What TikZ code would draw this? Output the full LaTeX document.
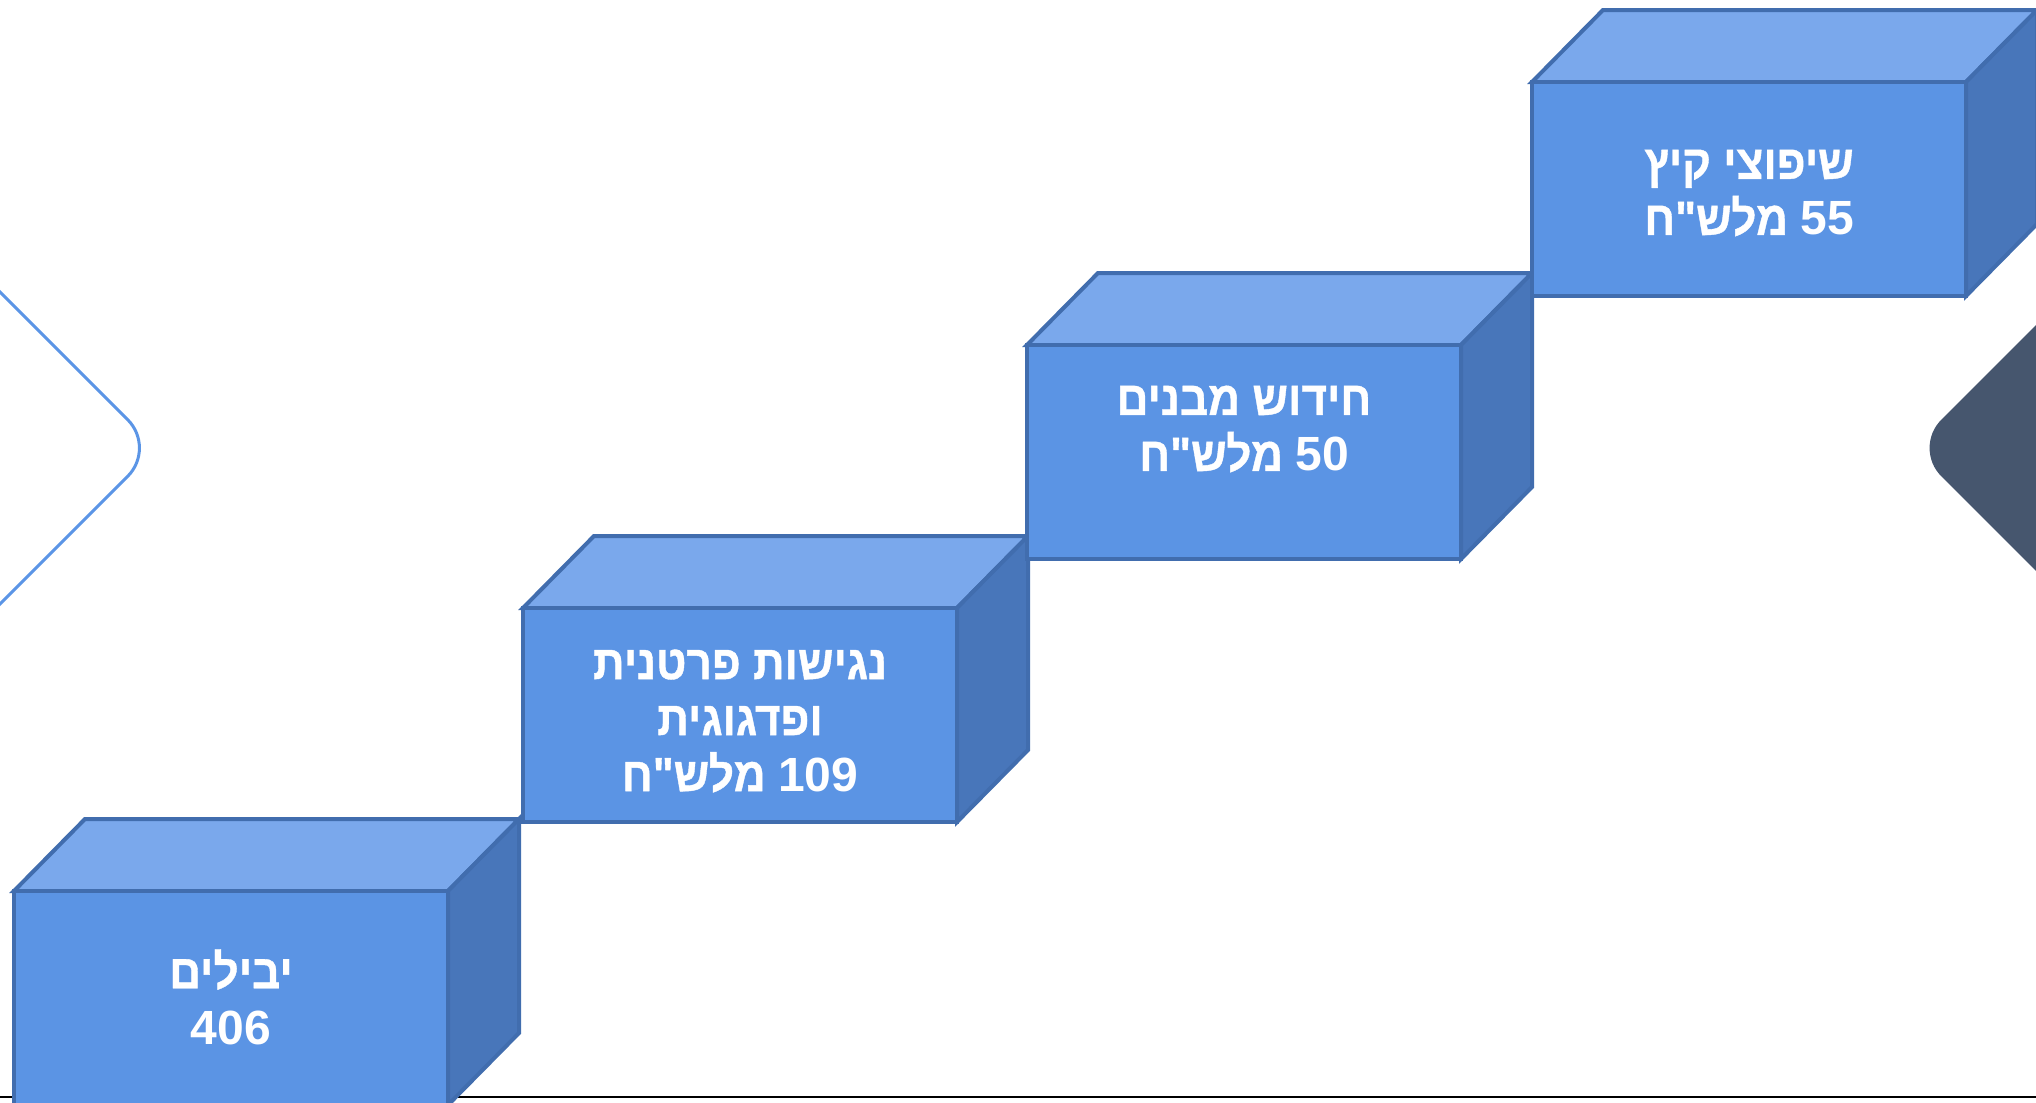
\documentclass[tikz,border=0pt]{standalone}
\usepackage{fontspec}
\setmainfont{Liberation Sans}
\newfontfamily\hebfont[Script=Hebrew, FakeStretch=0.92, FakeBold=0.8]{Liberation Sans}
\newfontfamily\numfont{Liberation Sans}
\TeXXeTstate=1
\definecolor{cubefront}{HTML}{5B94E4}
\definecolor{cubetop}{HTML}{7AA8EC}
\definecolor{cubeside}{HTML}{4876BA}
\definecolor{cubeedge}{HTML}{416DAE}
\definecolor{chevblue}{HTML}{5B95E6}
\definecolor{chevdark}{HTML}{46566E}
\newcommand\stepcube[1]{%
  \begin{scope}[shift={#1}]
    \filldraw[cubeline, fill=cubetop] (0,0) -- (71,-72) -- (505,-72) -- (434,0) -- cycle;
    \filldraw[cubeline, fill=cubeside] (434,0) -- (505,-72) -- (505,142) -- (434,214) -- cycle;
    \filldraw[cubeline, fill=cubefront] (0,0) rectangle (434,214);
  \end{scope}}
\newcommand\nm[1]{\beginL{\numfont #1}\endL{}}
\begin{document}
\begin{tikzpicture}[x=0.5pt,y=-0.5pt,
  cubeline/.style={draw=cubeedge, line width=2pt, line join=miter},
  lbl/.style={text=white, font=\hebfont\bfseries\fontsize{24}{28}\selectfont, align=center, inner sep=0pt}]
\useasboundingbox (0,0) rectangle (2036,1103);
% base line
\draw[line width=1pt, black] (0,1097) -- (2036,1097);
% left outline chevron
\draw[chevblue, line width=1.5pt, rounded corners=20pt] (-40,252) -- (156,448) -- (-40,644);
% right dark chevron
\fill[chevdark, rounded corners=20pt] (2100,261) -- (1913,448) -- (2100,635) -- cycle;
% cubes
\stepcube{(14,891)}
\stepcube{(523,608)}
\stepcube{(1027,345)}
\stepcube{(1532,82)}
% labels
\node[lbl] (t1) at (231,997) {\beginR יבילים\endR\\{\numfont 406}};
\node[lbl] (t2) at (740,721) {\beginR נגישות פרטנית\endR\\\beginR ופדגוגית\endR\\\beginR\nm{109} מלש"ח\endR};
\node[lbl] (t3) at (1244,429) {\beginR חידוש מבנים\endR\\\beginR\nm{50} מלש"ח\endR};
\node[lbl] (t4) at (1749,193) {\beginR שיפוצי קיץ\endR\\\beginR\nm{55} מלש"ח\endR};
\end{tikzpicture}
\end{document}
